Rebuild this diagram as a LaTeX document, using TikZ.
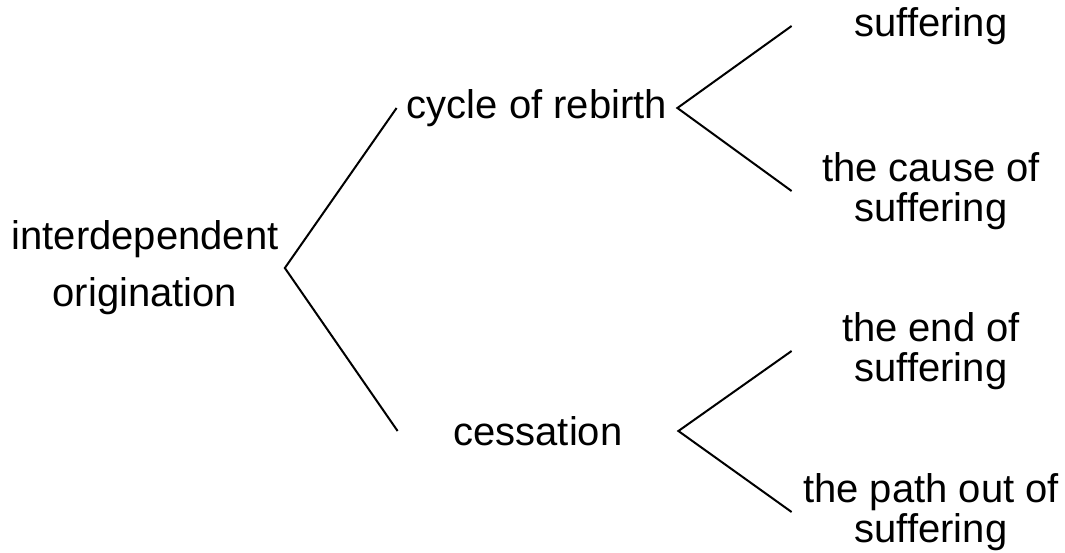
\documentclass[tikz,border=0pt]{standalone}
\usepackage{fontspec}
\setmainfont{Liberation Sans}
\usetikzlibrary{positioning}

\begin{document}
\begin{tikzpicture}[
  x=0.5pt, y=-0.5pt,
  root/.style={align=center, inner sep=3pt,
               font=\fontsize{20pt}{28.5pt}\selectfont},
  mid/.style={minimum width=140pt, inner sep=2pt,
              font=\fontsize{20pt}{20pt}\selectfont},
  leaf/.style={align=center, minimum width=139pt, inner sep=0pt,
               font=\fontsize{20pt}{20pt}\selectfont},
  branch/.style={line width=1pt},
]
  \useasboundingbox (0,0) rectangle (1065,552);

  % ── Root ────────────────────────
  \node[root] (origin) at (145,268) {interdependent\\origination};

  % ── Middle level ────────────────
  \node[mid] (rebirth) at (537,108) {cycle of rebirth};
  \node[mid] (cessation) at (538,431) {cessation};

  % ── Leaves ──────────────────────
  \node[leaf] (suff) at (931,26) {suffering};
  \node[leaf] (cause) at (931,191) {the cause of\\suffering};
  \node[leaf] (end) at (931,351) {the end of\\suffering};
  \node[leaf] (path) at (931,512) {the path out of\\suffering};

  % ── Branches ────────────────────
  \draw[branch] (rebirth.west) -- (origin.east) -- (cessation.west);
  \draw[branch] (suff.west) -- (rebirth.east) -- (cause.west);
  \draw[branch] (end.west) -- (cessation.east) -- (path.west);
\end{tikzpicture}
\end{document}
